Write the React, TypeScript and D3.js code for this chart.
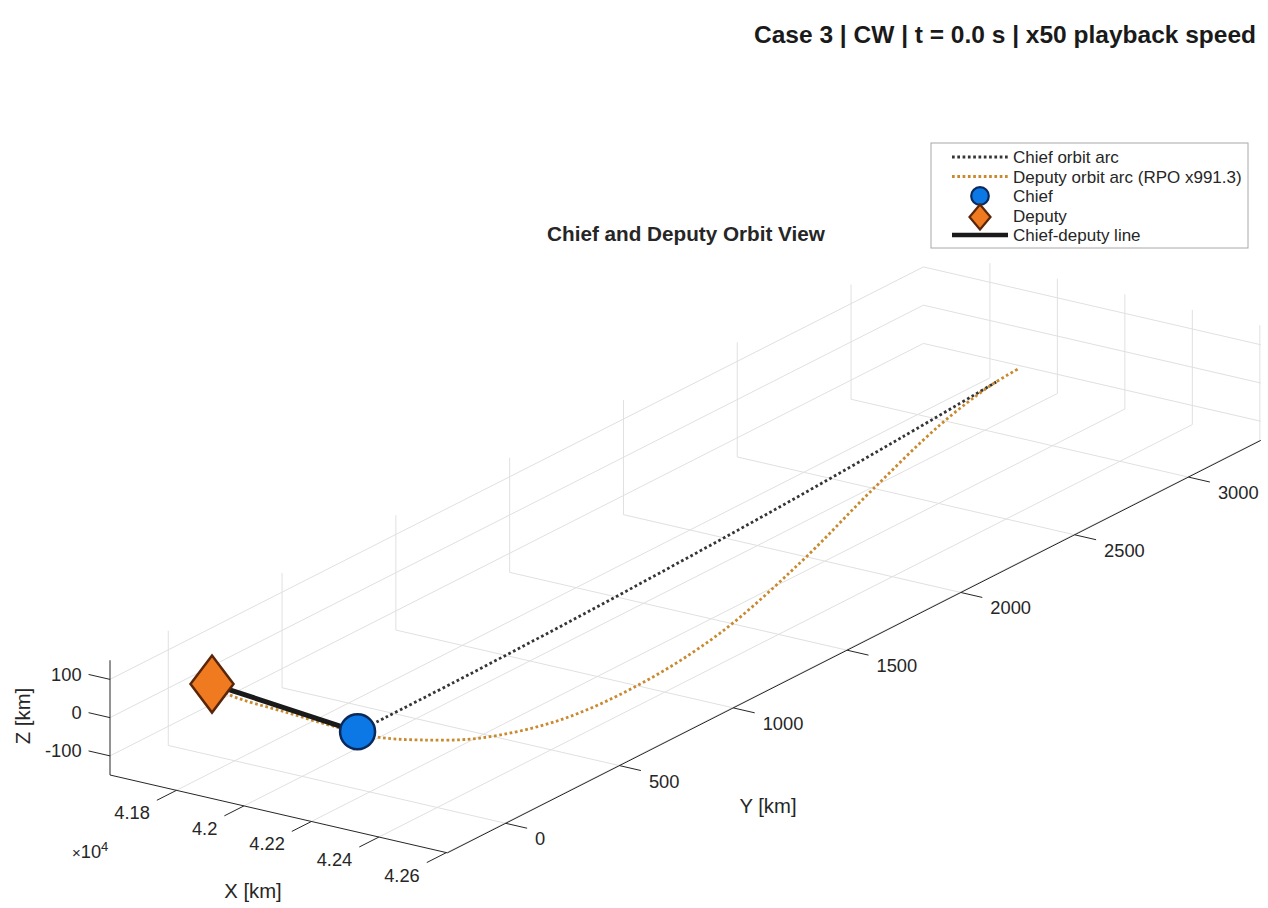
import React from "react";
import * as d3 from "d3";

// ---- data (km) ----
const chiefPos = [42164, 0, 0];
const deputyPos = [41676, 84, 0];

const chiefArcX = [42164, 42161, 42152, 42137, 42117, 42090, 42060];
const chiefArcY = [0, 500, 1000, 1500, 2000, 2500, 2960];
const chiefArcZ = [0, 0, 0, 0, 0, 0, 0];

const deputyArcX = [41676, 41757, 41937, 42113, 42225, 42324, 42439, 42529, 42548, 42506, 42387, 42245, 42118, 42063, 42052];
const deputyArcY = [84, 43, 18, -2, -5, 37, 131, 348, 673, 1086, 1613, 2132, 2627, 2928, 3068];
const deputyArcZ = [0, 0, 0, 0, 0, 0, 0, 0, 0, 0, 0, 0, 0, 0, 0];

const xTicks = [41800, 42000, 42200, 42400, 42600];
const xTickLabels = ["4.18", "4.2", "4.22", "4.24", "4.26"];
const yTicks = [0, 500, 1000, 1500, 2000, 2500, 3000];
const yTickLabels = ["0", "500", "1000", "1500", "2000", "2500", "3000"];
const zTicks = [-100, 0, 100];
const zTickLabels = ["-100", "0", "100"];

const legendLabels = [
  "Chief orbit arc",
  "Deputy orbit arc (RPO x991.3)",
  "Chief",
  "Deputy",
  "Chief-deputy line",
];

const figTitle = "Case 3 | CW | t = 0.0 s | x50 playback speed";
const axTitle = "Chief and Deputy Orbit View";

// ---- axes setup ----
const X_LIM = [41603, 42603];
const Y_LIM = [-256, 3318];
const Z_LIM = [-150, 150];
const PX_PER_KM = 0.407; // equal data aspect on all three axes
const AZ = (34 * Math.PI) / 180;
const EL = (20 * Math.PI) / 180;
const ORIGIN = { x: 110, y: 775 }; // screen position of (xmin, ymin, zmin)

const FONT = "'Liberation Sans', Arial, Helvetica, sans-serif";
const AX_COLOR = "#262626";
const GRID_COLOR = "#e0e0e0";
const CHIEF_ARC_COLOR = "#353535";
const DEPUTY_ARC_COLOR = "#c98a2f";
const CHIEF_FILL = "#0c78e6";
const CHIEF_EDGE = "#0a2a5c";
const DEPUTY_FILL = "#f07a1f";
const DEPUTY_EDGE = "#5a260a";
const DOTS = "2.7 2.6";
const DOT_W = 2.8;

const sx = d3.scaleLinear().domain(X_LIM).range([0, (X_LIM[1] - X_LIM[0]) * PX_PER_KM]);
const sy = d3.scaleLinear().domain(Y_LIM).range([0, (Y_LIM[1] - Y_LIM[0]) * PX_PER_KM]);
const sz = d3.scaleLinear().domain(Z_LIM).range([0, (Z_LIM[1] - Z_LIM[0]) * PX_PER_KM]);

function project(x: number, y: number, z: number): [number, number] {
  const u = sx(x);
  const v = sy(y);
  const w = sz(z);
  const px = ORIGIN.x + u * Math.cos(AZ) + v * Math.sin(AZ);
  const py =
    ORIGIN.y +
    u * Math.sin(AZ) * Math.sin(EL) -
    v * Math.cos(AZ) * Math.sin(EL) -
    w * Math.cos(EL);
  return [px, py];
}

function unitDir(a: [number, number], b: [number, number]): [number, number] {
  const dx = b[0] - a[0];
  const dy = b[1] - a[1];
  const l = Math.hypot(dx, dy);
  return [dx / l, dy / l];
}

const [xmin, xmax] = X_LIM;
const [ymin, ymax] = Y_LIM;
const [zmin, zmax] = Z_LIM;

// screen directions of the data axes
const exDir = unitDir(project(xmin, ymin, zmin), project(xmax, ymin, zmin));
const eyDir = unitDir(project(xmin, ymin, zmin), project(xmin, ymax, zmin));
const TICK_LEN = 22;

const lineGen = d3
  .line<[number, number]>()
  .x((d) => d[0])
  .y((d) => d[1])
  .curve(d3.curveCatmullRom.alpha(0.5));

type Seg = [[number, number], [number, number]];

function gridSegments(): Seg[] {
  const segs: Seg[] = [];
  // floor
  xTicks.forEach((x) => segs.push([project(x, ymin, zmin), project(x, ymax, zmin)]));
  yTicks.forEach((y) => segs.push([project(xmin, y, zmin), project(xmax, y, zmin)]));
  // back wall x = xmin
  yTicks.forEach((y) => segs.push([project(xmin, y, zmin), project(xmin, y, zmax)]));
  zTicks.forEach((z) => segs.push([project(xmin, ymin, z), project(xmin, ymax, z)]));
  // back wall y = ymax
  xTicks.forEach((x) => segs.push([project(x, ymax, zmin), project(x, ymax, zmax)]));
  zTicks.forEach((z) => segs.push([project(xmin, ymax, z), project(xmax, ymax, z)]));
  return segs;
}

function Diamond({ cx, cy, hw, hh, sw }: { cx: number; cy: number; hw: number; hh: number; sw: number }) {
  const d = `M${cx},${cy - hh}L${cx + hw},${cy}L${cx},${cy + hh}L${cx - hw},${cy}Z`;
  return <path d={d} fill={DEPUTY_FILL} stroke={DEPUTY_EDGE} strokeWidth={sw} strokeLinejoin="miter" />;
}

export default function App() {
  const grid = gridSegments();
  const o = project(xmin, ymin, zmin);
  const xEnd = project(xmax, ymin, zmin);
  const yEnd = project(xmax, ymax, zmin);
  const zEnd = project(xmin, ymin, zmax);

  const chiefArc = chiefArcX.map((x, i) => project(x, chiefArcY[i], chiefArcZ[i]));
  const deputyArc = deputyArcX.map((x, i) => project(x, deputyArcY[i], deputyArcZ[i]));
  const chief = project(chiefPos[0], chiefPos[1], chiefPos[2]);
  const deputy = project(deputyPos[0], deputyPos[1], deputyPos[2]);

  const tickSize = 18.3;
  const labelSize = 20.3;

  // legend geometry
  const lg = { x: 931, y: 143, w: 317, h: 105 };
  const rowY = [157, 176.5, 196, 215.5, 235];
  const sampleX0 = 952;
  const sampleX1 = 1008;
  const symX = 980;
  const textX = 1013;

  return (
    <svg
      width={1268}
      height={908}
      viewBox="0 0 1268 908"
      style={{ position: "absolute", left: 0, top: 0, background: "#ffffff" }}
      fontFamily={FONT}
    >
      <rect x={0} y={0} width={1268} height={908} fill="#ffffff" />

      {/* figure title */}
      <text x={1256} y={43} textAnchor="end" fontSize={24.5} fontWeight="bold" fill="#1a1a1a">
        {figTitle}
      </text>

      {/* axes title */}
      <text x={686} y={241} textAnchor="middle" fontSize={20.7} fontWeight="bold" fill={AX_COLOR}>
        {axTitle}
      </text>

      {/* grid */}
      <g stroke={GRID_COLOR} strokeWidth={1} fill="none">
        {grid.map((s, i) => (
          <line key={i} x1={s[0][0]} y1={s[0][1]} x2={s[1][0]} y2={s[1][1]} />
        ))}
      </g>

      {/* axis lines */}
      <g stroke={AX_COLOR} strokeWidth={1} fill="none">
        <line x1={o[0]} y1={o[1]} x2={xEnd[0]} y2={xEnd[1]} />
        <line x1={xEnd[0]} y1={xEnd[1]} x2={yEnd[0]} y2={yEnd[1]} />
        <line x1={o[0]} y1={o[1]} x2={zEnd[0]} y2={zEnd[1]} />
      </g>

      {/* x ticks: pointing along -y */}
      <g fontSize={tickSize} fill={AX_COLOR}>
        {xTicks.map((x, i) => {
          const p = project(x, ymin, zmin);
          const e: [number, number] = [p[0] - eyDir[0] * TICK_LEN, p[1] - eyDir[1] * TICK_LEN];
          return (
            <g key={i}>
              <line x1={p[0]} y1={p[1]} x2={e[0]} y2={e[1]} stroke={AX_COLOR} strokeWidth={1} />
              <text x={e[0] - 7} y={e[1] + 19} textAnchor="end">
                {xTickLabels[i]}
              </text>
            </g>
          );
        })}
      </g>

      {/* y ticks: pointing along +x */}
      <g fontSize={tickSize} fill={AX_COLOR}>
        {yTicks.map((y, i) => {
          const p = project(xmax, y, zmin);
          const e: [number, number] = [p[0] + exDir[0] * TICK_LEN, p[1] + exDir[1] * TICK_LEN];
          return (
            <g key={i}>
              <line x1={p[0]} y1={p[1]} x2={e[0]} y2={e[1]} stroke={AX_COLOR} strokeWidth={1} />
              <text x={e[0] + 8} y={e[1] + 17} textAnchor="start">
                {yTickLabels[i]}
              </text>
            </g>
          );
        })}
      </g>

      {/* z ticks: pointing along -x */}
      <g fontSize={tickSize} fill={AX_COLOR}>
        {zTicks.map((z, i) => {
          const p = project(xmin, ymin, z);
          const e: [number, number] = [p[0] - exDir[0] * TICK_LEN, p[1] - exDir[1] * TICK_LEN];
          return (
            <g key={i}>
              <line x1={p[0]} y1={p[1]} x2={e[0]} y2={e[1]} stroke={AX_COLOR} strokeWidth={1} />
              <text x={e[0] - 7} y={e[1] + 6.5} textAnchor="end">
                {zTickLabels[i]}
              </text>
            </g>
          );
        })}
      </g>

      {/* exponent of x axis */}
      <text x={72} y={858} fontSize={tickSize} fill={AX_COLOR}>
        <tspan fontSize={15}>×</tspan>
        <tspan>10</tspan>
        <tspan fontSize={13} dy={-7.5}>4</tspan>
      </text>

      {/* axis labels */}
      <text x={253} y={898} textAnchor="middle" fontSize={labelSize} fill={AX_COLOR}>
        X [km]
      </text>
      <text x={768} y={813} textAnchor="middle" fontSize={labelSize} fill={AX_COLOR}>
        Y [km]
      </text>
      <text
        transform={`translate(30,716) rotate(-90)`}
        textAnchor="middle"
        fontSize={labelSize}
        fill={AX_COLOR}
      >
        Z [km]
      </text>

      {/* orbit arcs */}
      <path
        d={lineGen(chiefArc) || ""}
        fill="none"
        stroke={CHIEF_ARC_COLOR}
        strokeWidth={DOT_W}
        strokeDasharray={DOTS}
      />
      <path
        d={lineGen(deputyArc) || ""}
        fill="none"
        stroke={DEPUTY_ARC_COLOR}
        strokeWidth={DOT_W}
        strokeDasharray={DOTS}
      />

      {/* chief-deputy line */}
      <line
        x1={chief[0]}
        y1={chief[1]}
        x2={deputy[0]}
        y2={deputy[1]}
        stroke="#1a1a1a"
        strokeWidth={5}
        strokeLinecap="butt"
      />

      {/* markers */}
      <circle cx={chief[0]} cy={chief[1]} r={17.5} fill={CHIEF_FILL} stroke={CHIEF_EDGE} strokeWidth={2.5} />
      <Diamond cx={deputy[0]} cy={deputy[1]} hw={21.5} hh={28.5} sw={2.5} />

      {/* legend */}
      <g>
        <rect x={lg.x} y={lg.y} width={lg.w} height={lg.h} fill="#ffffff" stroke="#a8a8a8" strokeWidth={1} />
        <line x1={sampleX0} y1={rowY[0]} x2={sampleX1} y2={rowY[0]} stroke={CHIEF_ARC_COLOR} strokeWidth={DOT_W} strokeDasharray={DOTS} />
        <line x1={sampleX0} y1={rowY[1]} x2={sampleX1} y2={rowY[1]} stroke={DEPUTY_ARC_COLOR} strokeWidth={DOT_W} strokeDasharray={DOTS} />
        <circle cx={symX} cy={rowY[2]} r={8.8} fill={CHIEF_FILL} stroke={CHIEF_EDGE} strokeWidth={2.2} />
        <Diamond cx={symX} cy={rowY[3] + 1.5} hw={10.5} hh={12.5} sw={2.2} />
        <line x1={sampleX0} y1={rowY[4]} x2={sampleX1} y2={rowY[4]} stroke="#1a1a1a" strokeWidth={4.5} />
        <g fontSize={17} fill={AX_COLOR}>
          {legendLabels.map((t, i) => (
            <text key={i} x={textX} y={rowY[i] + 6}>
              {t}
            </text>
          ))}
        </g>
      </g>
    </svg>
  );
}
